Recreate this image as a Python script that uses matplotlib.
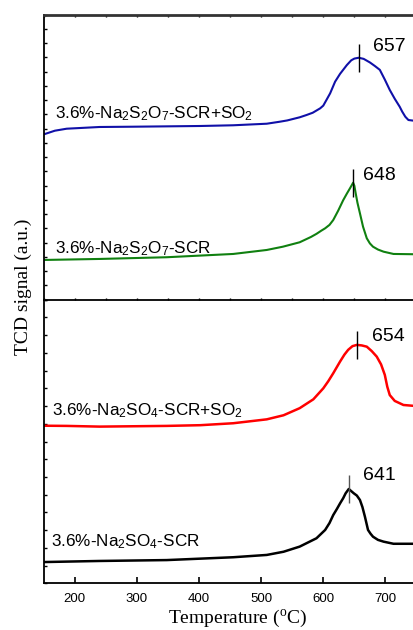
import matplotlib
matplotlib.use("Agg")
import matplotlib.pyplot as plt
import numpy as np
from matplotlib.ticker import MultipleLocator

plt.rcParams["font.family"] = ["Liberation Sans", "DejaVu Sans"]
plt.rcParams["mathtext.default"] = "regular"

# ---- TPR profiles (temperature in degC, TCD signal in arbitrary units) ----
# upper panel
t_s2o7_so2 = [152, 168, 187, 240, 294, 402, 455, 509, 530, 542, 562, 573, 583, 595,
              600, 605, 611, 619, 627, 638, 645, 650, 657, 665, 675, 683, 691, 699,
              707, 715, 723, 727, 732, 737, 746]
s_s2o7_so2 = [11.63, 11.86, 12.00, 12.12, 12.14, 12.19, 12.24, 12.35, 12.49, 12.58,
              12.80, 12.96, 13.12, 13.43, 13.62, 14.01, 14.48, 15.30, 15.85, 16.47,
              16.80, 16.92, 16.98, 16.90, 16.65, 16.40, 16.13, 15.45, 14.72, 14.10,
              13.54, 13.20, 12.84, 12.61, 12.56]

t_s2o7 = [152, 240, 348, 455, 509, 535, 562, 580, 589, 597, 603, 610, 616, 624, 632,
          638, 643, 646, 648, 650, 652, 655, 659, 664, 670, 675, 680, 688, 697, 713, 746]
s_s2o7 = [2.79, 2.86, 2.98, 3.21, 3.49, 3.72, 4.03, 4.40, 4.62, 4.85, 5.01, 5.25, 5.59,
          6.25, 6.98, 7.45, 7.82, 8.05, 8.21, 8.00, 7.50, 6.80, 6.06, 5.12, 4.31, 3.95,
          3.72, 3.52, 3.37, 3.21, 3.19]

# lower panel
t_so4_so2 = [152, 187, 240, 348, 402, 455, 509, 536, 562, 584, 600, 608, 616, 627, 634,
             640, 647, 654, 662, 670, 678, 686, 693, 699, 703, 707, 715, 729, 746]
s_so4_so2 = [8.89, 8.88, 8.84, 8.88, 8.92, 9.03, 9.25, 9.48, 9.88, 10.38, 11.00, 11.40,
             11.85, 12.51, 12.90, 13.17, 13.38, 13.45, 13.42, 13.35, 13.10, 12.79, 12.35,
             11.76, 11.09, 10.62, 10.29, 10.06, 10.01]

t_so4 = [152, 240, 348, 455, 509, 536, 562, 589, 603, 610, 616, 622, 627, 632, 636,
         641, 645, 649, 654, 659, 663, 667, 672, 676, 680, 688, 697, 713, 746]
s_so4 = [1.20, 1.26, 1.31, 1.47, 1.60, 1.78, 2.07, 2.54, 3.01, 3.40, 3.85, 4.20, 4.51,
         4.80, 5.08, 5.32, 5.20, 5.08, 4.95, 4.70, 4.30, 3.76, 3.01, 2.80, 2.63, 2.45,
         2.35, 2.23, 2.23]

peak_temps = [657, 648, 654, 641]
peak_labels = ["657", "648", "654", "641"]

sample_names = [
    r"3.6%-Na$_2$S$_2$O$_7$-SCR+SO$_2$",
    r"3.6%-Na$_2$S$_2$O$_7$-SCR",
    r"3.6%-Na$_2$SO$_4$-SCR+SO$_2$",
    r"3.6%-Na$_2$SO$_4$-SCR",
]
colors = ["#1010a8", "#108010", "#ff0000", "#000000"]
marker_colors = ["black", "black", "black", "#555555"]

W, H = 414, 630
fig = plt.figure(figsize=(W / 100, H / 100), dpi=100)

left_px, right_px = 43.7, 414.0
top_px, mid_px, bot_px = 14.7, 299.7, 583.3


def add_panel(y0, y1):
    return fig.add_axes([left_px / W, 1 - y1 / H, (right_px - left_px) / W, (y1 - y0) / H])


ax_top = add_panel(top_px, mid_px)
ax_bot = add_panel(mid_px, bot_px)

xmin, xmax = 150, 746
ax_top.set_xlim(xmin, xmax)
ax_bot.set_xlim(xmin, xmax)
ax_top.set_ylim(0, 20)
ax_bot.set_ylim(0, 16)

for ax in (ax_top, ax_bot):
    ax.spines["right"].set_visible(False)
    for s in ("left", "top", "bottom"):
        ax.spines[s].set_linewidth(1.3)
    ax.yaxis.set_major_locator(MultipleLocator(1))
    ax.tick_params(axis="y", direction="in", length=2, width=1, labelleft=False)
    ax.set_facecolor("none")

ax_top.spines["top"].set_linewidth(2.0)
ax_top.spines["top"].set_color("#333333")
ax_top.xaxis.set_major_locator(MultipleLocator(50))
ax_top.tick_params(axis="x", direction="in", length=1.5, width=1, top=True, bottom=True,
                   labelbottom=False)
ax_bot.spines["top"].set_visible(False)
ax_bot.xaxis.set_major_locator(MultipleLocator(100))
ax_bot.tick_params(axis="x", direction="in", length=4.5, width=1.2, pad=7, labelsize=9.5,
                   top=False)

series = [
    (ax_top, t_s2o7_so2, s_s2o7_so2),
    (ax_top, t_s2o7, s_s2o7),
    (ax_bot, t_so4_so2, s_so4_so2),
    (ax_bot, t_so4, s_so4),
]
label_pos = [(168, 12.73), (168, 3.26), (163, 9.50), (161, 2.10)]
label_offsets = [(10.6, 8), (7.3, 5.5), (10.7, 6), (10.0, 9.4)]
line_widths = [1.5, 1.5, 1.8, 1.8]

for i, (ax, t, s) in enumerate(series):
    ax.plot(t, s, color=colors[i], lw=line_widths[i], solid_joinstyle="round")
    tp = peak_temps[i]
    yp = np.interp(tp, t, s)
    ax.plot([tp], [yp], marker="|", markersize=19.5, markeredgewidth=1.0,
            color=marker_colors[i], linestyle="none")
    ax.annotate(peak_labels[i], (tp, yp), xytext=label_offsets[i],
                textcoords="offset points", ha="left", va="center", fontsize=14)
    ax.text(label_pos[i][0], label_pos[i][1], sample_names[i], fontsize=12.3,
            ha="left", va="baseline")

fig.text(23 / W, 1 - 287 / H, "TCD signal (a.u.)", rotation=90, ha="center",
         va="center", fontsize=14, family="Liberation Serif")
fig.text(238 / W, 1 - 618 / H, r"Temperature ($^o$C)", ha="center", va="center",
         fontsize=14, family="Liberation Serif")

fig.savefig("out.png", dpi=100)
